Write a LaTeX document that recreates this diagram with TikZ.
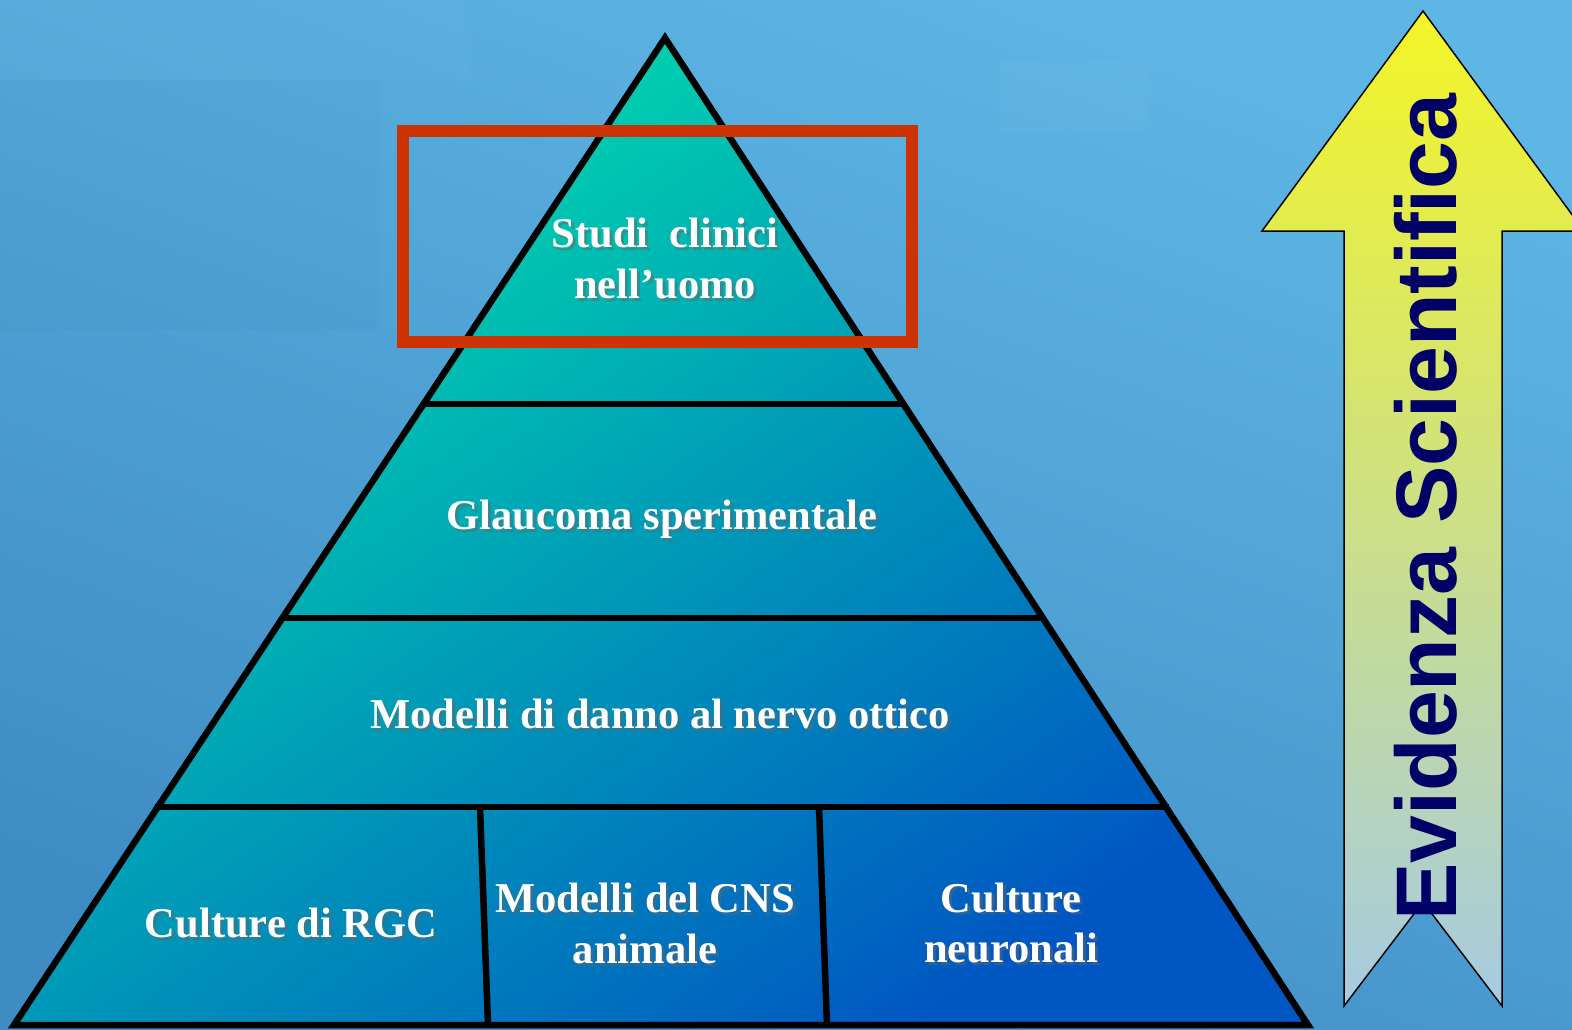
\documentclass[tikz,border=0pt]{standalone}
\usepackage{fontspec}
\setmainfont{Liberation Serif}
\newfontfamily\arrowfont{Liberation Sans}
\usetikzlibrary{calc}
\definecolor{bgtop}{HTML}{5EB6E4}
\definecolor{bgbot}{HTML}{3F8CC4}
\definecolor{pyrtop}{HTML}{00E2AC}
\definecolor{pyrmid}{HTML}{00ADB6}
\definecolor{pyrbot}{HTML}{0056C2}
\definecolor{redbox}{HTML}{CC3300}
\definecolor{arrtop}{HTML}{F4F526}
\definecolor{arrbot}{HTML}{A6CBE2}
\definecolor{navy}{HTML}{000066}
\tikzset{
  divider/.style={line width=6.5pt, black},
  lbl/.style={font=\fontsize{42.5}{51}\selectfont\bfseries, text=white, align=center, inner sep=0pt},
  lblshadow/.style={font=\fontsize{42.5}{51}\selectfont\bfseries, text=black!60, opacity=0.5, align=center, inner sep=0pt}
}
\newcommand{\shadowlabel}[3]{%
  \node[lblshadow] at ($(#1)+(3,3)$) {#3};
  \node[lbl] (#2) at (#1) {#3};
}
\begin{document}
\begin{tikzpicture}[x=1pt,y=-1pt]
\useasboundingbox (0,0) rectangle (1572,1029);
% background
\shade[top color=bgtop, bottom color=bgbot, shading angle=-20] (0,0) rectangle (1572,1029);
\fill[white, opacity=0.025] (0,0) rectangle (470,80);
\fill[white, opacity=0.025] (1000,60) rectangle (1150,130);
\fill[black, opacity=0.015] (0,80) rectangle (380,330);
% pyramid
\coordinate (A) at (665,38);
\coordinate (BL) at (14,1025);
\coordinate (BR) at (1308,1025);
\shade[top color=pyrtop, middle color=pyrmid, bottom color=pyrbot, shading angle=35] (A) -- (BL) -- (BR) -- cycle;
\coordinate (L1) at ($(A)!0.3708!(BL)$);
\coordinate (R1) at ($(A)!0.3708!(BR)$);
\coordinate (L2) at ($(A)!0.5876!(BL)$);
\coordinate (R2) at ($(A)!0.5876!(BR)$);
\coordinate (L3) at ($(A)!0.7791!(BL)$);
\coordinate (R3) at ($(A)!0.7791!(BR)$);
\draw[divider] (L1) -- (R1);
\draw[divider] (L2) -- (R2);
\draw[divider] ($(L3)+(-3,0)$) -- ($(R3)+(3,0)$);
\coordinate (D1t) at (480,807);
\coordinate (D1b) at (488,1025);
\coordinate (D2t) at (819,807);
\coordinate (D2b) at (827,1025);
\draw[divider] (D1t) -- (D1b);
\draw[divider] (D2t) -- (D2b);
\draw[line width=6.5pt, line join=miter] (A) -- (BL) -- (BR) -- cycle;
% red box
\draw[redbox, line width=12.5pt] (403,131) rectangle (912,342);
% labels
\coordinate (p0) at (665,259);
\coordinate (p1) at (662,519);
\coordinate (p2) at (660,714);
\coordinate (p3) at (291,923);
\coordinate (p4) at (645,923);
\coordinate (p5) at (1011,923);
\shadowlabel{p0}{t0}{Studi\ \ clinici\\nell’uomo}
\shadowlabel{p1}{t1}{Glaucoma sperimentale}
\shadowlabel{p2}{t2}{Modelli di danno al nervo ottico}
\shadowlabel{p3}{t3}{Culture di RGC}
\shadowlabel{p4}{t4}{Modelli del CNS\\animale}
\shadowlabel{p5}{t5}{Culture\\neuronali}
% arrow
\coordinate (T) at (1423,11);
\shade[top color=arrtop, bottom color=arrbot, draw=black, line width=1.5pt, line join=miter]
  (T) -- (1584,231) -- (1502,231) -- (1502,1006) -- (1423,902) -- (1344,1006) -- (1344,231) -- (1262,231) -- cycle;
\node[rotate=90, anchor=base, inner sep=0pt, text=navy, font=\arrowfont\fontsize{86}{86}\selectfont\bfseries] (ev) at (1456,507) {Evidenza Scientifica};
\end{tikzpicture}
\end{document}
